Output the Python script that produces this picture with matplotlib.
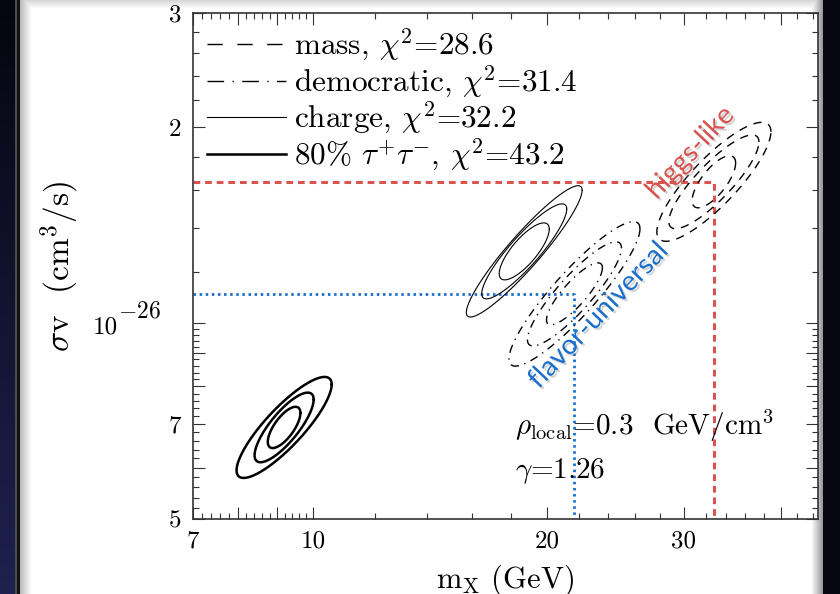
import numpy as np
import matplotlib
matplotlib.use("Agg")
import matplotlib.pyplot as plt
from matplotlib.lines import Line2D
from matplotlib.ticker import FixedLocator, FixedFormatter, NullFormatter
from matplotlib import patheffects as pe

plt.rcParams["mathtext.fontset"] = "cm"
plt.rcParams["font.family"] = ["cmr10", "DejaVu Serif"]
plt.rcParams["axes.unicode_minus"] = False
plt.rcParams["axes.formatter.use_mathtext"] = True

# ---------------- data ----------------
model_names = ["mass", "democratic", "charge", r"80% $\tau^{+}\tau^{-}$"]
chi2_values = [28.6, 31.4, 32.2, 43.2]

# best-fit points (GeV, cm^3/s)
best_mass = [32.8, 21.7, 18.7, 9.18]
best_sigv = [1.65e-26, 1.11e-26, 1.29e-26, 6.92e-27]

# confidence contours: half extents in decades of m and sigma v, and correlation
# (inner, middle, outer) for each model
half_logm = [[0.028, 0.058, 0.0734],
             [0.036, 0.0605, 0.0843],
             [0.0322, 0.0547, 0.0745],
             [0.021, 0.038, 0.0612]]
half_logsv = [[0.040, 0.072, 0.0914],
              [0.0476, 0.080, 0.111],
              [0.0438, 0.073, 0.1009],
              [0.0317, 0.0535, 0.0776]]
correlation = [[0.72, 0.85, 0.84],
               [0.84, 0.88, 0.90],
               [0.78, 0.89, 0.93],
               [0.70, 0.80, 0.85]]

x_major = [7, 8, 9, 10, 20, 30, 40]
x_major_labels = ["7", "", "", "10", "20", "30", ""]
x_minor = [7.2, 7.4, 7.6, 7.8, 8.2, 8.4, 8.6, 8.8, 9.2, 9.4, 9.6, 9.8,
           12, 14, 16, 18, 22, 24, 26, 28, 32, 34, 36, 38, 42, 44]
y_major = [5e-27, 6e-27, 7e-27, 8e-27, 9e-27, 1e-26, 2e-26, 3e-26]
y_major_labels = ["5", "", "7", "", "", "", "2", "3"]
y_decade_value = 1e-26
y_decade_mantissa, y_decade_exponent = "10", "$-26$"
y_minor = [5.2e-27, 5.4e-27, 5.6e-27, 5.8e-27, 6.2e-27, 6.4e-27, 6.6e-27, 6.8e-27,
           7.2e-27, 7.4e-27, 7.6e-27, 7.8e-27, 8.2e-27, 8.4e-27, 8.6e-27, 8.8e-27,
           9.2e-27, 9.4e-27, 9.6e-27, 9.8e-27,
           1.2e-26, 1.4e-26, 1.6e-26, 1.8e-26, 2.2e-26, 2.4e-26, 2.6e-26, 2.8e-26]
x_limits = (7, 44.6)
y_limits = (5e-27, 3e-26)

# ---------------- styles ----------------
contour_styles = [dict(ls=(0, (6, 5)), lw=1.0),
                  dict(ls=(0, (6, 4, 1, 4)), lw=1.0),
                  dict(ls="-", lw=0.8),
                  dict(ls="-", lw=1.8)]
legend_styles = [dict(ls=(0, (11, 10.5)), lw=1.0),
                 dict(ls=(0, (12, 6, 1, 6)), lw=1.0),
                 dict(ls="-", lw=0.8),
                 dict(ls="-", lw=1.8)]
RED = "#d9534f"
BLUE = "#1a6fcc"

W, H = 840, 594
fig = plt.figure(figsize=(W / 100, H / 100), dpi=100, facecolor="white")

# slide frame around the figure
bg = np.ones((H, W, 3))
rows = np.linspace(0, 1, H)[:, None]
bg[:, :15] = np.stack([0.02 + 0.10 * rows, 0.02 + 0.11 * rows, 0.06 + 0.25 * rows], axis=-1)
bg[:, 15:17] = 0.30
bg[:, 17:20] = 0.08
for i, x in enumerate(range(20, 32)):
    bg[:, x] = np.minimum(bg[:, x], 0.74 + 0.26 * i / 11)
for j in range(0, 9):
    bg[j, 20:] = np.minimum(bg[j, 20:], 0.84 + 0.16 * j / 8)
for i, x in enumerate(range(811, 823)):
    bg[:, x] = np.minimum(bg[:, x], 1.0 - 0.4 * i / 11)
bg[:, 823:] = [0.03, 0.03, 0.07]
fig.figimage(bg, xo=0, yo=0, origin="upper", zorder=-10)

ax = fig.add_axes([192.6 / W, 1 - 519.3 / H, 625 / W, 506.5 / H], zorder=1)
ax.set_facecolor("white")
ax.set_xscale("log")
ax.set_yscale("log")
ax.set_xlim(*x_limits)
ax.set_ylim(*y_limits)

# contours of the fits
phi = np.linspace(0, 2 * np.pi, 600)
for k in range(len(model_names)):
    for du, dv, rho in zip(half_logm[k], half_logsv[k], correlation[k]):
        alpha = np.arccos(rho)
        u = np.log10(best_mass[k]) + du * np.cos(phi)
        v = np.log10(best_sigv[k]) + dv * np.cos(phi - alpha)
        ax.plot(10 ** u, 10 ** v, color="black", solid_capstyle="round",
                **contour_styles[k], zorder=3)

# guide lines to the best-fit points
ax.plot([x_limits[0], best_mass[0], best_mass[0]],
        [best_sigv[0], best_sigv[0], y_limits[0]],
        color=RED, lw=2.2, ls=(0, (2.2, 1.6)), zorder=2)
ax.plot([x_limits[0], best_mass[1], best_mass[1]],
        [best_sigv[1], best_sigv[1], y_limits[0]],
        color=BLUE, lw=2.0, ls=(0, (0.9, 1.3)), zorder=2)

shadow = [pe.withSimplePatchShadow(offset=(1.5, -1.5), shadow_rgbFace="0.5", alpha=0.35)]
ax.text(30.6, 1.83e-26, "higgs-like", family="Lato", fontsize=20, color=RED,
        rotation=47, ha="center", va="center", rotation_mode="anchor",
        path_effects=shadow, zorder=5)
ax.text(23.3, 1.03e-26, "flavor-universal", family="Lato", fontsize=20, color=BLUE,
        rotation=46.5, ha="center", va="center", rotation_mode="anchor",
        path_effects=shadow, zorder=5)

ax.text(0.516, 0.1664, r"$\rho_{\rm local}$=0.3  GeV/cm$^3$", transform=ax.transAxes,
        fontsize=21, va="baseline", ha="left", zorder=6)
ax.text(0.516, 0.0815, r"$\gamma$=1.26", transform=ax.transAxes,
        fontsize=21, va="baseline", ha="left", zorder=6)

# legend
handles = [Line2D([], [], color="black", **st) for st in legend_styles]
labels = [f"{n}, $\\chi^{{2}}$={c:.1f}" for n, c in zip(model_names, chi2_values)]
ax.legend(handles, labels, loc="upper left", bbox_to_anchor=(0.0, 1.0),
          frameon=False, fontsize=22.5, handlelength=2.55, handletextpad=0.25,
          labelspacing=0.0, borderaxespad=0.25, borderpad=0.2)

# axes, ticks
ax.xaxis.set_major_locator(FixedLocator(x_major))
ax.xaxis.set_major_formatter(FixedFormatter(x_major_labels))
ax.xaxis.set_minor_locator(FixedLocator(x_minor))
ax.xaxis.set_minor_formatter(NullFormatter())
ax.yaxis.set_major_locator(FixedLocator(y_major))
ax.yaxis.set_major_formatter(FixedFormatter(y_major_labels))
ax.yaxis.set_minor_locator(FixedLocator(y_minor))
ax.yaxis.set_minor_formatter(NullFormatter())
ax.tick_params(which="both", direction="in", top=True, right=True,
               color="#333333", width=0.8, labelsize=18)
ax.tick_params(which="major", length=8.6)
ax.tick_params(which="minor", length=4.3)
ax.tick_params(axis="x", pad=8)
ax.tick_params(axis="y", pad=8)
for sp in ax.spines.values():
    sp.set_color("#333333")
    sp.set_linewidth(1.2)

# the 10^-26 tick label, with a full-size exponent
ax.annotate(y_decade_mantissa, xy=(0, y_decade_value), xycoords=("axes fraction", "data"),
            xytext=(-74.6, -10), textcoords="offset pixels", ha="right", va="baseline",
            fontsize=18, annotation_clip=False)
ax.annotate(y_decade_exponent, xy=(0, y_decade_value), xycoords=("axes fraction", "data"),
            xytext=(-74.6, 6), textcoords="offset pixels", ha="left", va="baseline",
            fontsize=17, annotation_clip=False)

ax.set_xlabel(r"m$_{\rm X}$ (GeV)", fontsize=22)
ax.xaxis.set_label_coords(0.5, -0.1360)
ax.xaxis.label.set_va("baseline")
ax.set_ylabel(r"$\sigma$v  (cm$^3$/s)", fontsize=24)
ax.yaxis.set_label_coords(-0.212, 0.5)
ax.yaxis.label.set(va="center", ha="center", rotation_mode="anchor")

fig.savefig("out.png", dpi=100, facecolor="white")
